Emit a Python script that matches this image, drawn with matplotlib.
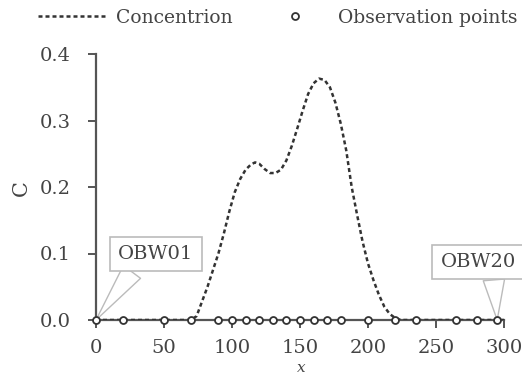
import matplotlib
matplotlib.use("Agg")
import matplotlib.pyplot as plt
from matplotlib.lines import Line2D

plt.rcParams["font.family"] = ["DejaVu Serif"]

# ── Data ───────────────────────────────────────────────────────────────────
conc_x = [0, 60, 70, 74, 78, 82, 86, 90, 94, 98, 102, 106, 110, 114, 117,
          120, 124, 128, 132, 136, 140, 144, 148, 152, 156, 160, 164, 168,
          172, 176, 180, 184, 188, 192, 196, 200, 204, 208, 212, 216, 220,
          224, 230, 300]
conc_y = [0, 0, 0, 0.006, 0.028, 0.05, 0.075, 0.1, 0.13, 0.163, 0.192,
          0.212, 0.226, 0.234, 0.237, 0.235, 0.227, 0.221, 0.221, 0.226,
          0.24, 0.262, 0.288, 0.315, 0.34, 0.356, 0.363, 0.361, 0.35, 0.327,
          0.295, 0.255, 0.2, 0.158, 0.118, 0.085, 0.06, 0.038, 0.02, 0.009,
          0.003, 0, 0, 0]

obs_x = [0, 20, 50, 70, 90, 100, 110, 120, 130, 140, 150, 160, 170, 180,
         200, 220, 235, 265, 280, 295]
obs_y = [0] * len(obs_x)
obs_names = ["OBW01", "OBW20"]

x_ticks = [0, 50, 100, 150, 200, 250, 300]
y_ticks = [0.0, 0.1, 0.2, 0.3, 0.4]

# ── Style ──────────────────────────────────────────────────────────────────
TXT = "#444444"
LINE = "#333333"
SPINE = "#555555"
FS = 14
DASH = (0, (1.6, 1.2))

fig = plt.figure(figsize=(5.22, 3.74), dpi=100, facecolor="white")
ax = fig.add_axes([96 / 522, 1 - 320 / 374, 408 / 522, 266 / 374])

ax.plot(conc_x, conc_y, color=LINE, linestyle=DASH, linewidth=1.8, zorder=3)
ax.plot(obs_x, obs_y, linestyle="none", marker="o", markersize=5,
        markerfacecolor="white", markeredgecolor=LINE, markeredgewidth=1.3,
        clip_on=False, zorder=4)

ax.set_xlim(0, 300)
ax.set_ylim(0, 0.4)
ax.set_xticks(x_ticks)
ax.set_yticks(y_ticks)
ax.set_yticklabels([f"{v:.1f}" for v in y_ticks])

for s in ["top", "right"]:
    ax.spines[s].set_visible(False)
for s in ["left", "bottom"]:
    ax.spines[s].set_color(SPINE)
    ax.spines[s].set_linewidth(1.6)

ax.tick_params(axis="both", direction="out", length=6, width=1.4,
               color=SPINE, labelcolor=TXT, labelsize=FS)
ax.tick_params(axis="y", pad=12)
ax.tick_params(axis="x", pad=8)

ax.set_xlabel("x", fontsize=11, style="italic", color=TXT)
ax.xaxis.set_label_coords(0.502, -0.155)
ax.set_ylabel("C", fontsize=FS + 1, color=TXT)
ax.yaxis.set_label_coords(-0.16, 0.496)

# callouts
box = dict(boxstyle="square,pad=0.42", fc="white", ec="#bbbbbb", lw=1.2)
wedge = dict(arrowstyle="wedge,tail_width=1.1", fc="white", ec="#bbbbbb",
             lw=1.0, shrinkA=0, shrinkB=0)
ax.annotate(obs_names[0], xy=(obs_x[0], obs_y[0]), xytext=(44, 0.099),
            fontsize=FS, color=TXT, ha="center", va="center", bbox=box,
            annotation_clip=False, arrowprops=dict(wedge, relpos=(0.27, 0)))
ax.annotate(obs_names[1], xy=(obs_x[-1], obs_y[-1]), xytext=(281, 0.087),
            fontsize=FS, color=TXT, ha="center", va="center", bbox=box,
            annotation_clip=False, arrowprops=dict(wedge, relpos=(0.7, 0)))

# legend: two pieces so the marker sits where the reference has it
LFS = 13.5
leg_kw = dict(ncol=1, loc="center left", frameon=False, fontsize=LFS,
              labelcolor=TXT, borderpad=0, borderaxespad=0,
              handlelength=3.7, handletextpad=0.45)
line_h = Line2D([], [], color=LINE, linestyle=DASH, linewidth=1.8)
mark_h = Line2D([], [], linestyle="none", marker="o", markersize=5,
                markerfacecolor="white", markeredgecolor=LINE,
                markeredgewidth=1.3)
fig.legend([line_h], ["Concentrion"],
           bbox_to_anchor=(38 / 522, 1 - 18 / 374), **leg_kw)
fig.legend([mark_h], ["Observation points"],
           bbox_to_anchor=(260 / 522, 1 - 18 / 374), **leg_kw)

fig.savefig("out.png", dpi=100, facecolor="white")
